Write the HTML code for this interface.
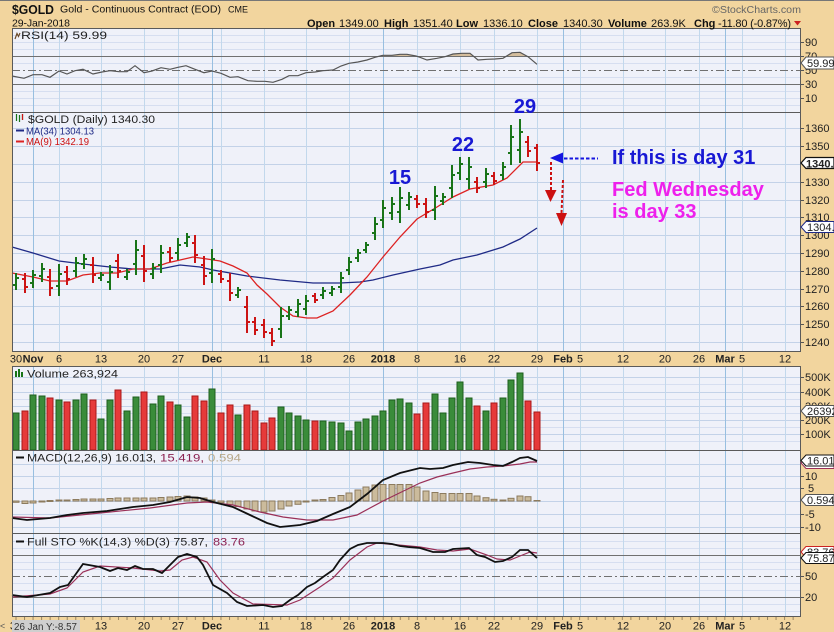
<!DOCTYPE html>
<html><head><meta charset="utf-8"><style>
html,body{margin:0;padding:0;background:#f2d59e;}
svg{display:block;font-family:"Liberation Sans",Arial,sans-serif;}
.ax{font-size:11px;fill:#222;}
.g{fill:#3a8c3a;stroke:#1d5e1d;stroke-width:1}
.r{fill:#e63a3a;stroke:#a81818;stroke-width:1}
.h{fill:#cbbb9c;stroke:#8c7b5e;stroke-width:1}
</style></head><body>
<svg width="834" height="632" viewBox="0 0 834 632">
<defs>
<clipPath id="ob"><rect x="12" y="28" width="789" height="28"/></clipPath>
<pattern id="tk" x="15.5" y="0" width="8.54" height="3" patternUnits="userSpaceOnUse"><rect width="1" height="3" fill="#9a8560"/></pattern>
</defs>
<rect x="0" y="0" width="834" height="632" fill="#f2d59e"/>
<rect x="0" y="0" width="834" height="1" fill="#777"/>

<!-- panel backgrounds -->
<rect x="12" y="28" width="789" height="324" fill="#eff1f9"/>
<rect x="12" y="366" width="789" height="251" fill="#eff1f9"/>

<!-- faint horizontal lines -->
<g stroke="#d6def0" stroke-width="1">
<path d="M12 35.5H801M12 42.5H801M12 49.5H801M12 63.5H801M12 77.5H801M12 91.5H801M12 98.5H801M12 105.5H801"/>
<path d="M12 384.5H801M12 399.5H801M12 413.5H801M12 427.5H801M12 441.5H801"/>
<path d="M12 541.5H801M12 548.5H801M12 562.5H801M12 569.5H801M12 583.5H801M12 590.5H801M12 604.5H801M12 611.5H801"/>
</g>
<!-- main horizontal grid -->
<g stroke="#c3d2e8" stroke-width="1">
<path d="M12 128.5H801M12 146.5H801M12 164.5H801M12 182.5H801M12 200.5H801M12 217.5H801M12 235.5H801M12 253.5H801M12 271.5H801M12 289.5H801M12 306.5H801M12 324.5H801M12 342.5H801"/>
<path d="M12 377.5H801M12 392.5H801M12 406.5H801M12 420.5H801M12 434.5H801"/>
<path d="M12 464.5H801M12 476.5H801M12 488.5H801M12 501.5H801M12 514.5H801M12 527.5H801"/>
</g>
<!-- vertical grid -->
<g stroke="#c2d8ec" stroke-width="1">
<path d="M59.5 28V352M101.5 28V352M144.5 28V352M178.5 28V352M221.5 28V352M264.5 28V352M306.5 28V352M349.5 28V352M417.5 28V352M460.5 28V352M494.5 28V352M537.5 28V352M580.5 28V352M623.5 28V352M665.5 28V352M699.5 28V352M742.5 28V352M785.5 28V352"/>
<path d="M59.5 366V617M101.5 366V617M144.5 366V617M178.5 366V617M221.5 366V617M264.5 366V617M306.5 366V617M349.5 366V617M417.5 366V617M460.5 366V617M494.5 366V617M537.5 366V617M580.5 366V617M623.5 366V617M665.5 366V617M699.5 366V617M742.5 366V617M785.5 366V617"/>
</g>
<g stroke="#98bfe0" stroke-width="1">
<path d="M33.5 28V352M212.5 28V352M383.5 28V352M563.5 28V352M725.5 28V352"/>
<path d="M33.5 366V617M212.5 366V617M383.5 366V617M563.5 366V617M725.5 366V617"/>
</g>
<!-- RSI / STO reference lines -->
<g stroke="#707070" stroke-width="1">
<path d="M12 56.5H801M12 84.5H801M12 555.5H801M12 597.5H801"/>
</g>
<g stroke="#707070" stroke-width="1" stroke-dasharray="8,3,2,3">
<path d="M12 70.5H801M12 576.5H801"/>
</g>

<!-- RSI -->
<polygon clip-path="url(#ob)" fill="#d4bd9c" points="12,76 24,78.3 33,74.7 42,74.7 50,77.3 59,71 67,74 75,70.7 83,69.3 93,74 102,72 110,70.7 119,71.7 127,71.7 135,65.7 144,72.7 152,71 161,67.7 170,69.3 178,67.3 186,65.7 195,69.3 204,72.7 212,71 221,73.3 230,77.3 238,76.7 248,80.7 257,81.3 265,81.3 273,82.3 282,79.3 289,75.7 298,75.7 306,72.7 315,72 323,70.7 333,70 341,66 349,63.3 358,62 367,60 375,57.3 383,55.3 392,55.3 400,54.3 407,54.3 416,56 420,57.3 427,60 437,58.3 445,56.7 453,54 462,53.3 470,53.3 478,60 487,59.3 495,59 503,58.3 512,52.7 520,52.3 528,56.7 537,64.3 537,56.5 12,56.5"/>
<polyline fill="none" stroke="#555" stroke-width="1.2" points="12,76 24,78.3 33,74.7 42,74.7 50,77.3 59,71 67,74 75,70.7 83,69.3 93,74 102,72 110,70.7 119,71.7 127,71.7 135,65.7 144,72.7 152,71 161,67.7 170,69.3 178,67.3 186,65.7 195,69.3 204,72.7 212,71 221,73.3 230,77.3 238,76.7 248,80.7 257,81.3 265,81.3 273,82.3 282,79.3 289,75.7 298,75.7 306,72.7 315,72 323,70.7 333,70 341,66 349,63.3 358,62 367,60 375,57.3 383,55.3 392,55.3 400,54.3 407,54.3 416,56 420,57.3 427,60 437,58.3 445,56.7 453,54 462,53.3 470,53.3 478,60 487,59.3 495,59 503,58.3 512,52.7 520,52.3 528,56.7 537,64.3"/>

<!-- Moving averages -->
<polyline fill="none" stroke="#1f2a86" stroke-width="1.3" points="12,247 33,253 59,261 83,264 110,267 133,269 160,269 180,265 200,267 213,270 230,273 247,276 280,280 313,283 340,283 360,282 373,280 393,275 420,269 440,265 453,260 477,255 503,247 520,239 537,228"/>
<polyline fill="none" stroke="#dd2222" stroke-width="1.3" points="12,273 33,277 50,281 67,281 83,275 100,273 117,273 133,269 150,269 167,263 180,260 193,257 207,259 220,261 233,266 247,273 257,285 267,294 280,307 293,316 307,318 317,318 333,311 350,295 367,277 383,257 400,237 417,219 437,207 453,197 470,189 493,185 507,178 523,162 537,162"/>

<!-- Price bars -->
<path fill="none" stroke="#187418" stroke-width="2" d="M16 273V290M13 285H16M16 278H19M33 270V288M30 283H33M33 275H36M42 263V282M39 276H42M42 269H45M59 264V296M56 286H59M59 274H62M76 257V277M73 271H76M76 263H79M84 254V269M81 264H84M84 259H87M101 272V281M98 278H101M101 275H104M110 265V290M107 282H110M110 272H113M127 269V280M124 277H127M127 272H130M136 240V275M133 264H136M136 250H139M153 263V279M150 274H153M153 268H156M161 245V273M158 265H161M161 253H164M178 238V260M175 253H178M178 245H181M187 233V247M184 243H187M187 237H190M212 249V283M209 273H212M212 259H215M238 287V298M235 295H238M238 290H241M281 307V338M278 329H281M281 316H284M289 306V320M286 316H289M289 310H292M298 299V317M295 312H298M298 304H301M306 295V315M303 309H306M306 301H309M323 287V299M320 295H323M323 291H326M332 286V296M329 293H332M332 289H335M341 272V293M338 287H341M341 278H344M349 257V275M346 270H349M349 262H352M358 249V262M355 258H358M358 253H361M366 242V253M363 250H366M366 245H369M375 217V240M372 233H375M375 224H378M383 200V228M380 220H383M383 208H386M392 197V220M389 213H392M392 204H395M400 187V223M397 212H400M400 198H403M409 192V210M406 205H409M409 197H412M435 186V220M432 210H435M435 196H438M443 193V205M440 201H443M443 197H446M452 165V198M449 188H452M452 175H455M460 157V180M457 173H460M460 164H463M469 157V189M466 179H469M469 167H472M486 168V188M483 182H486M486 174H489M503 162V180M500 175H503M503 167H506M511 125V165M508 153H511M511 137H514M520 119V163M517 150H520M520 132H523"/>
<path fill="none" stroke="#cc1414" stroke-width="2" d="M25 273V293M22 279H25M25 287H28M50 269V296M47 277H50M50 288H53M67 266V285M64 272H67M67 279H70M93 257V283M90 265H93M93 275H96M118 254V278M115 261H118M118 271H121M144 245V282M141 256H144M144 271H147M170 247V262M167 252H170M170 258H173M195 235V263M192 243H195M195 255H198M204 256V285M201 265H204M204 276H207M221 270V283M218 274H221M221 279H224M230 273V301M227 281H230M230 293H233M247 296V333M244 307H247M247 322H250M255 317V335M252 322H255M255 330H258M264 319V338M261 325H264M264 332H267M272 328V346M269 333H272M272 341H275M315 293V303M312 296H315M315 300H318M417 195V208M414 199H417M417 204H420M426 198V218M423 204H426M426 212H429M477 177V193M474 182H477M477 188H480M494 172V185M491 176H494M494 181H497M528 136V157M525 142H528M528 151H531M537 144V171M534 148H537M537 163H540"/>

<!-- Volume bars -->
<g>
<rect class="g" x="13" y="413" width="6" height="37"/><rect class="r" x="22" y="411" width="6" height="39"/><rect class="g" x="30" y="395" width="6" height="55"/><rect class="g" x="39" y="396" width="6" height="54"/><rect class="r" x="47" y="398" width="6" height="52"/><rect class="g" x="56" y="400" width="6" height="50"/><rect class="r" x="64" y="402" width="6" height="48"/><rect class="g" x="73" y="400" width="6" height="50"/><rect class="g" x="81" y="394" width="6" height="56"/><rect class="r" x="90" y="400" width="6" height="50"/><rect class="g" x="98" y="419" width="6" height="31"/><rect class="g" x="107" y="400" width="6" height="50"/><rect class="r" x="115" y="390" width="6" height="60"/><rect class="g" x="124" y="411" width="6" height="39"/><rect class="g" x="133" y="397" width="6" height="53"/><rect class="r" x="141" y="392" width="6" height="58"/><rect class="g" x="150" y="404" width="6" height="46"/><rect class="g" x="158" y="396" width="6" height="54"/><rect class="r" x="167" y="402" width="6" height="48"/><rect class="g" x="175" y="405" width="6" height="45"/><rect class="g" x="184" y="417" width="6" height="33"/><rect class="r" x="192" y="396" width="6" height="54"/><rect class="r" x="201" y="401" width="6" height="49"/><rect class="g" x="209" y="389" width="6" height="61"/><rect class="r" x="218" y="413" width="6" height="37"/><rect class="r" x="227" y="405" width="6" height="45"/><rect class="g" x="235" y="415" width="6" height="35"/><rect class="r" x="244" y="405" width="6" height="45"/><rect class="r" x="252" y="411" width="6" height="39"/><rect class="r" x="261" y="423" width="6" height="27"/><rect class="r" x="269" y="418" width="6" height="32"/><rect class="g" x="278" y="407" width="6" height="43"/><rect class="g" x="286" y="413" width="6" height="37"/><rect class="g" x="295" y="416" width="6" height="34"/><rect class="g" x="303" y="420" width="6" height="30"/><rect class="r" x="312" y="421" width="6" height="29"/><rect class="g" x="320" y="421" width="6" height="29"/><rect class="g" x="329" y="422" width="6" height="28"/><rect class="g" x="338" y="423" width="6" height="27"/><rect class="g" x="346" y="431" width="6" height="19"/><rect class="g" x="355" y="422" width="6" height="28"/><rect class="g" x="363" y="419" width="6" height="31"/><rect class="g" x="372" y="416" width="6" height="34"/><rect class="g" x="380" y="411" width="6" height="39"/><rect class="g" x="389" y="400" width="6" height="50"/><rect class="g" x="397" y="399" width="6" height="51"/><rect class="g" x="406" y="403" width="6" height="47"/><rect class="r" x="414" y="414" width="6" height="36"/><rect class="r" x="423" y="403" width="6" height="47"/><rect class="g" x="432" y="394" width="6" height="56"/><rect class="g" x="440" y="413" width="6" height="37"/><rect class="g" x="449" y="398" width="6" height="52"/><rect class="g" x="457" y="382" width="6" height="68"/><rect class="g" x="466" y="398" width="6" height="52"/><rect class="r" x="474" y="406" width="6" height="44"/><rect class="g" x="483" y="411" width="6" height="39"/><rect class="r" x="491" y="403" width="6" height="47"/><rect class="g" x="500" y="398" width="6" height="52"/><rect class="g" x="508" y="380" width="6" height="70"/><rect class="g" x="517" y="373" width="6" height="77"/><rect class="r" x="525" y="401" width="6" height="49"/><rect class="r" x="534" y="412" width="6" height="38"/>
</g>

<!-- MACD histogram -->
<g>
<rect class="h" x="13" y="501" width="6" height="1.3"/><rect class="h" x="22" y="501" width="6" height="2.5"/><rect class="h" x="30" y="501" width="6" height="2"/><rect class="h" x="39" y="501" width="6" height="1"/><rect class="h" x="47" y="500.5" width="6" height="1"/><rect class="h" x="56" y="500" width="6" height="1"/><rect class="h" x="64" y="500" width="6" height="1"/><rect class="h" x="73" y="499.5" width="6" height="1.5"/><rect class="h" x="81" y="499" width="6" height="2"/><rect class="h" x="90" y="499" width="6" height="2"/><rect class="h" x="98" y="499" width="6" height="2"/><rect class="h" x="107" y="498.5" width="6" height="2.5"/><rect class="h" x="115" y="498" width="6" height="3"/><rect class="h" x="124" y="498" width="6" height="3"/><rect class="h" x="133" y="498" width="6" height="3"/><rect class="h" x="141" y="498" width="6" height="3"/><rect class="h" x="150" y="498" width="6" height="3"/><rect class="h" x="158" y="497.5" width="6" height="3.5"/><rect class="h" x="167" y="497" width="6" height="4"/><rect class="h" x="175" y="496.5" width="6" height="4.5"/><rect class="h" x="184" y="496" width="6" height="5"/><rect class="h" x="192" y="497" width="6" height="4"/><rect class="h" x="201" y="498" width="6" height="3"/><rect class="h" x="209" y="500" width="6" height="1"/><rect class="h" x="218" y="501" width="6" height="1.7"/><rect class="h" x="227" y="501" width="6" height="4"/><rect class="h" x="235" y="501" width="6" height="5.5"/><rect class="h" x="244" y="501" width="6" height="8"/><rect class="h" x="252" y="501" width="6" height="10"/><rect class="h" x="261" y="501" width="6" height="11"/><rect class="h" x="269" y="501" width="6" height="10"/><rect class="h" x="278" y="501" width="6" height="8"/><rect class="h" x="286" y="501" width="6" height="5"/><rect class="h" x="295" y="501" width="6" height="3.3"/><rect class="h" x="303" y="501" width="6" height="1"/><rect class="h" x="312" y="500" width="6" height="1"/><rect class="h" x="320" y="499.5" width="6" height="1.5"/><rect class="h" x="329" y="497.5" width="6" height="3.5"/><rect class="h" x="338" y="495.5" width="6" height="5.5"/><rect class="h" x="346" y="493" width="6" height="8"/><rect class="h" x="355" y="490" width="6" height="11"/><rect class="h" x="363" y="487" width="6" height="14"/><rect class="h" x="372" y="485" width="6" height="16"/><rect class="h" x="380" y="484.5" width="6" height="16.5"/><rect class="h" x="389" y="484.5" width="6" height="16.5"/><rect class="h" x="397" y="484.5" width="6" height="16.5"/><rect class="h" x="406" y="484.5" width="6" height="16.5"/><rect class="h" x="414" y="487" width="6" height="14"/><rect class="h" x="423" y="491" width="6" height="10"/><rect class="h" x="432" y="492.5" width="6" height="8.5"/><rect class="h" x="440" y="493.5" width="6" height="7.5"/><rect class="h" x="449" y="493.5" width="6" height="7.5"/><rect class="h" x="457" y="493.5" width="6" height="7.5"/><rect class="h" x="466" y="493.5" width="6" height="7.5"/><rect class="h" x="474" y="496" width="6" height="5"/><rect class="h" x="483" y="497.7" width="6" height="3.3"/><rect class="h" x="491" y="499.3" width="6" height="1.7"/><rect class="h" x="500" y="500" width="6" height="1"/><rect class="h" x="508" y="498.3" width="6" height="2.7"/><rect class="h" x="517" y="496" width="6" height="5"/><rect class="h" x="525" y="496.7" width="6" height="4.3"/><rect class="h" x="534" y="500.5" width="6" height="0.5"/>
</g>
<!-- MACD lines -->
<polyline fill="none" stroke="#9a3058" stroke-width="1.2" points="12,517 50,518 100,513 150,508 187,503 207,502 233,505 260,512 283,517 307,520 333,520 357,515 383,501 420,483 437,477 453,473 470,469 487,467 503,466 520,464 530,462 537,462"/>
<polyline fill="none" stroke="#111" stroke-width="1.8" points="12,518 27,520 50,518 67,515 83,513 107,511 133,507 153,505 170,502 187,497 200,498 213,502 233,507 250,515 267,523 280,527 300,525 317,521 333,514 350,507 367,494 383,480 400,473 420,468 430,469 443,468 453,465 468,462 480,463 493,465 503,466 512,462 520,458 528,457 537,461"/>

<!-- STO lines -->
<polyline fill="none" stroke="#9a3058" stroke-width="1.2" points="12,597 50,594 67,588 83,572 100,566 133,568 160,571 170,570 182,560 193,557 207,562 220,580 233,593 253,604 287,605 300,600 320,587 333,578 350,560 367,547 377,543 420,547 437,550 453,551 470,549 487,555 497,559 510,560 520,556 530,552 537,553"/>
<polyline fill="none" stroke="#111" stroke-width="1.8" points="12,595 27,597 50,593 60,587 68,585 83,564 100,567 110,571 118,568 127,570 135,566 143,569 153,569 162,573 170,565 178,557 187,554 197,557 203,565 213,585 227,593 237,602 247,606 263,605 273,607 282,606 290,600 298,595 307,587 315,583 323,577 333,570 340,560 350,549 358,545 367,543 375,543 383,543 392,544 400,546 408,547 420,548 433,552 445,552 453,549 469,548 477,555 485,557 495,562 503,561 512,557 520,550 528,550 537,558"/>

<!-- panel borders -->
<g fill="none" stroke="#5a5a5a" stroke-width="1">
<rect x="12.5" y="28.5" width="788" height="323"/>
<path d="M12 112.5H801"/>
<rect x="12.5" y="366.5" width="788" height="250"/>
<path d="M12 450.5H801M12 533.5H801"/>
</g>
<rect x="12" y="617" width="789" height="3" fill="url(#tk)"/>

<!-- annotations -->
<g font-weight="bold" font-size="20" fill="#1818d4">
<text x="400" y="184" text-anchor="middle">15</text>
<text x="463" y="151" text-anchor="middle">22</text>
<text x="525" y="113" text-anchor="middle">29</text>
<text x="612" y="164">If this is day 31</text>
</g>
<g font-weight="bold" font-size="20" fill="#ee20ec">
<text x="612" y="196">Fed Wednesday</text>
<text x="612" y="218">is day 33</text>
</g>
<polygon points="550,158 563,152.5 563,163.5" fill="#1515e0"/>
<path d="M564 158.5H598" stroke="#1515e0" stroke-width="2" stroke-dasharray="3.5,2"/>
<path d="M551 162V191M563 180L561.5 213" stroke="#cc1010" stroke-width="2" stroke-dasharray="3,2" fill="none"/>
<polygon points="545,190 556.5,190 550.5,202" fill="#cc1010"/>
<polygon points="556,213 567,213 561.5,226" fill="#cc1010"/>

<!-- header -->
<text x="12" y="14" font-size="13" font-weight="bold" fill="#111" textLength="42" lengthAdjust="spacingAndGlyphs">$GOLD</text>
<text x="60" y="12.5" font-size="10.5" fill="#111" textLength="161" lengthAdjust="spacingAndGlyphs">Gold - Continuous Contract (EOD)</text>
<text x="228" y="12.5" font-size="9" fill="#111" textLength="20">CME</text>
<text x="12" y="26.5" font-size="10.5" fill="#111" textLength="58">29-Jan-2018</text>
<text x="712" y="13" font-size="10.5" fill="#666" textLength="89" lengthAdjust="spacingAndGlyphs">©StockCharts.com</text>
<g font-size="11" fill="#111">
<text x="307" y="27" font-weight="bold">Open</text><text x="339" y="27">1349.00</text>
<text x="384" y="27" font-weight="bold">High</text><text x="413" y="27">1351.40</text>
<text x="456" y="27" font-weight="bold">Low</text><text x="483" y="27">1336.10</text>
<text x="528" y="27" font-weight="bold">Close</text><text x="563" y="27">1340.30</text>
<text x="608" y="27" font-weight="bold">Volume</text><text x="651" y="27">263.9K</text>
<text x="694" y="27" font-weight="bold">Chg</text><text x="718" y="27" textLength="73">-11.80 (-0.87%)</text>
</g>
<polygon points="794,21 801,21 797.5,25.5" fill="#cc2020"/>

<!-- panel titles -->
<polyline points="15,39 17,33.5 18.5,36.5 20,33" fill="none" stroke="#6b4a2a" stroke-width="1.2"/>
<text x="21" y="39" font-size="11" fill="#222" textLength="86" lengthAdjust="spacingAndGlyphs">RSI(14) 59.99</text>
<path d="M16.5 114V121M19.5 115V122M22.5 114V120" stroke="#187418" stroke-width="1.2"/>
<path d="M22.5 114V120" stroke="#cc1414" stroke-width="1.2"/>
<text x="28" y="123" font-size="11" fill="#222" textLength="127" lengthAdjust="spacingAndGlyphs">$GOLD (Daily) 1340.30</text>
<path d="M16 130.5H24" stroke="#1f2a86" stroke-width="2"/>
<text x="26" y="134.5" font-size="10" fill="#1f2a86" textLength="68" lengthAdjust="spacingAndGlyphs">MA(34) 1304.13</text>
<path d="M16 141.5H24" stroke="#dd2222" stroke-width="2"/>
<text x="26" y="145" font-size="10" fill="#cc1111" textLength="63" lengthAdjust="spacingAndGlyphs">MA(9) 1342.19</text>
<path d="M16 377V371M19 377V369M22 377V372" stroke="#187418" stroke-width="2"/>
<text x="27" y="377.5" font-size="11" fill="#222" textLength="91" lengthAdjust="spacingAndGlyphs">Volume 263,924</text>
<path d="M16 457.5H24" stroke="#111" stroke-width="2"/>
<text x="27" y="461.5" font-size="11" fill="#222" textLength="129" lengthAdjust="spacingAndGlyphs">MACD(12,26,9) 16.013,</text>
<text x="160" y="461.5" font-size="11" fill="#8b2252" textLength="44" lengthAdjust="spacingAndGlyphs">15.419,</text>
<text x="208" y="461.5" font-size="11" fill="#b8a88a" textLength="33" lengthAdjust="spacingAndGlyphs">0.594</text>
<path d="M16 541.5H24" stroke="#111" stroke-width="2"/>
<text x="27" y="545.5" font-size="11" fill="#222" textLength="181" lengthAdjust="spacingAndGlyphs">Full STO %K(14,3) %D(3) 75.87,</text>
<text x="213" y="545.5" font-size="11" fill="#8b2252" textLength="32" lengthAdjust="spacingAndGlyphs">83.76</text>

<!-- right axis ticks -->
<path stroke="#555" stroke-width="1" d="M801 42.5H804M801 56.5H804M801 70.5H804M801 84.5H804M801 98.5H804M801 128.5H804M801 146.5H804M801 182.5H804M801 200.5H804M801 217.5H804M801 235.5H804M801 253.5H804M801 271.5H804M801 289.5H804M801 306.5H804M801 324.5H804M801 342.5H804M801 377.5H804M801 392.5H804M801 420.5H804M801 434.5H804M801 476.5H804M801 488.5H804M801 514.5H804M801 527.5H804M801 576.5H804M801 597.5H804"/>
<g class="ax">
<text x="805" y="46">90</text><text x="805" y="60">70</text><text x="805" y="74">50</text><text x="805" y="88">30</text><text x="805" y="102">10</text>
<text x="805" y="132">1360</text><text x="805" y="150">1350</text><text x="805" y="186">1330</text><text x="805" y="204">1320</text><text x="805" y="221">1310</text><text x="805" y="239">1300</text><text x="805" y="257">1290</text><text x="805" y="275">1280</text><text x="805" y="293">1270</text><text x="805" y="310">1260</text><text x="805" y="328">1250</text><text x="805" y="346">1240</text>
<text x="805" y="381">500K</text><text x="805" y="396">400K</text><text x="805" y="410">300K</text><text x="805" y="424">200K</text><text x="805" y="438">100K</text>
<text x="805" y="480">10</text><text x="808" y="492">5</text><text x="805" y="518">-5</text><text x="805" y="531">-10</text>
<text x="805" y="580">50</text><text x="805" y="601">20</text>
</g>
<!-- value boxes -->
<g font-size="11" fill="#222">
<polygon points="801,63 806,57 834,57 834,69 806,69" fill="#fff" stroke="#555"/><text x="807" y="67">59.99</text>
<polygon points="801,163 806,157.5 834,157.5 834,168.5 806,168.5" fill="#fff" stroke="#111" stroke-width="1.3"/><text x="806" y="167.5" font-weight="bold">1340.30</text>
<polygon points="801,227 806,221.5 834,221.5 834,232.5 806,232.5" fill="#fff" stroke="#1f2a86"/><text x="807" y="231">1304.13</text>
<polygon points="801,411 806,405.5 834,405.5 834,416.5 806,416.5" fill="#fff" stroke="#555"/><text x="807" y="415">263924</text>
<polygon points="801,463 806,457.5 834,457.5 834,468.5 806,468.5" fill="#fff" stroke="#9a3058"/>
<polygon points="801,460.5 806,455 834,455 834,466 806,466" fill="#fff" stroke="#111"/><text x="807" y="464.5">16.013</text>
<polygon points="801,500 806,494.5 834,494.5 834,505.5 806,505.5" fill="#fff" stroke="#555"/><text x="807" y="504">0.594</text>
<polygon points="801,552 806,546.5 834,546.5 834,557.5 806,557.5" fill="#fff" stroke="#cc2222"/><text x="807" y="556">83.76</text>
<polygon points="801,558 806,552.5 834,552.5 834,563.5 806,563.5" fill="#fff" stroke="#111"/><text x="807" y="562">75.87</text>
</g>

<!-- date axis (middle) -->
<g class="ax" text-anchor="middle">
<text x="16" y="362.5">30</text><text x="33" y="362.5" font-weight="bold">Nov</text><text x="59" y="362.5">6</text><text x="101" y="362.5">13</text><text x="144" y="362.5">20</text><text x="178" y="362.5">27</text><text x="212" y="362.5" font-weight="bold">Dec</text><text x="264" y="362.5">11</text><text x="306" y="362.5">18</text><text x="349" y="362.5">26</text><text x="383" y="362.5" font-weight="bold">2018</text><text x="417" y="362.5">8</text><text x="460" y="362.5">16</text><text x="494" y="362.5">22</text><text x="537" y="362.5">29</text><text x="563" y="362.5" font-weight="bold">Feb</text><text x="580" y="362.5">5</text><text x="623" y="362.5">12</text><text x="665" y="362.5">20</text><text x="699" y="362.5">26</text><text x="725" y="362.5" font-weight="bold">Mar</text><text x="742" y="362.5">5</text><text x="785" y="362.5">12</text>
</g>
<!-- date axis (bottom) -->
<g class="ax" text-anchor="middle">
<text x="16" y="629.5">30</text><text x="33" y="629.5" font-weight="bold">Nov</text><text x="59" y="629.5">6</text><text x="101" y="629.5">13</text><text x="144" y="629.5">20</text><text x="178" y="629.5">27</text><text x="212" y="629.5" font-weight="bold">Dec</text><text x="264" y="629.5">11</text><text x="306" y="629.5">18</text><text x="349" y="629.5">26</text><text x="383" y="629.5" font-weight="bold">2018</text><text x="417" y="629.5">8</text><text x="460" y="629.5">16</text><text x="494" y="629.5">22</text><text x="537" y="629.5">29</text><text x="563" y="629.5" font-weight="bold">Feb</text><text x="580" y="629.5">5</text><text x="623" y="629.5">12</text><text x="665" y="629.5">20</text><text x="699" y="629.5">26</text><text x="725" y="629.5" font-weight="bold">Mar</text><text x="742" y="629.5">5</text><text x="785" y="629.5">12</text>
</g>
<rect x="12" y="620" width="68" height="12" fill="#cfcfcf"/>
<text x="14" y="630" font-size="10" fill="#333" textLength="63" lengthAdjust="spacingAndGlyphs">26 Jan Y:-8.57</text>
<text x="0" y="629" font-size="9" fill="#555">&lt;</text>
</svg>
</body></html>
